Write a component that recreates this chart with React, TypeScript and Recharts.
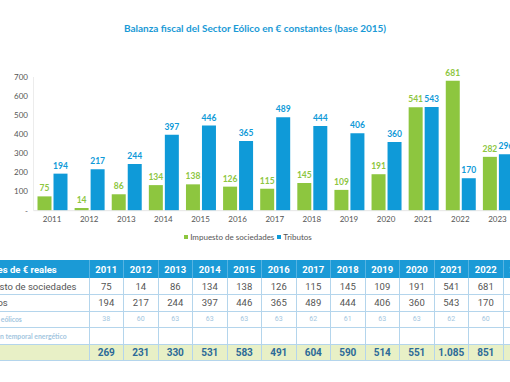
import React from "react";
import { BarChart, Bar, XAxis, YAxis, Legend, LabelList } from "recharts";

const years = ["2011", "2012", "2013", "2014", "2015", "2016", "2017", "2018", "2019", "2020", "2021", "2022", "2023"];
const impuesto = [75, 14, 86, 134, 138, 126, 115, 145, 109, 191, 541, 681, 282];
const tributos = [194, 217, 244, 397, 446, 365, 489, 444, 406, 360, 543, 170, 296];
const canones = ["38", "60", "63", "63", "63", "63", "62", "61", "63", "63", "62", "60", "60"];
const totales = ["269", "231", "330", "531", "583", "491", "604", "590", "514", "551", "1.085", "851", "578"];
const yTicks = [0, 100, 200, 300, 400, 500, 600, 700];

const GREEN = "#8dc63f";
const BLUE = "#0f9ad8";
const LINE = "#b4d5ec";

const data = years.map((y, i) => ({ year: y, Impuesto: impuesto[i], Tributos: tributos[i] }));

const LegendContent = (props: any) => (
  <div style={{ display: "flex", justifyContent: "center", fontFamily: "Lato", fontSize: 8, color: "#555" }}>
    {(props.payload || []).map((p: any) => (
      <span key={p.value} style={{ display: "flex", alignItems: "center", marginRight: 3 }}>
        <span style={{ width: 4, height: 4, background: p.color, display: "inline-block", marginRight: 2 }} />
        {p.value === "Impuesto" ? "Impuesto de sociedades" : "Tributos"}
      </span>
    ))}
  </div>
);

const cell = (extra: React.CSSProperties = {}): React.CSSProperties => ({
  borderLeft: `1px solid ${LINE}`,
  borderBottom: `1px solid ${LINE}`,
  textAlign: "center",
  padding: 0,
  ...extra,
});

const App = () => {
  const rowH = 16.6;
  return (
    <div style={{ position: "absolute", left: 0, top: 0, width: 510, height: 382, overflow: "hidden", background: "#fff" }}>
      <div
        style={{
          position: "absolute",
          top: 22,
          left: 0,
          width: 510,
          textAlign: "center",
          fontFamily: "Lato",
          fontWeight: 700,
          fontSize: 10,
          color: "#1a9ad6",
        }}
      >
        Balanza fiscal del Sector Eólico en € constantes (base 2015)
      </div>
      <div style={{ position: "absolute", left: 0, top: 0 }}>
        <BarChart
          width={520}
          height={250}
          data={data}
          margin={{ top: 77, right: 4, bottom: 19.3, left: 0 }}
          barSize={14}
          barGap={2}
        >
          <XAxis
            dataKey="year"
            height={20}
            tickLine={false}
            tickSize={0}
            tickMargin={6}
            axisLine={{ stroke: "#e6e6e6" }}
            tick={{ fontFamily: "Lato", fontSize: 8, fill: "#555" }}
          />
          <YAxis
            width={33.5}
            domain={[0, 700]}
            ticks={yTicks}
            tickLine={false}
            tickSize={0}
            tickMargin={5.5}
            axisLine={{ stroke: "#ececec" }}
            tickFormatter={(v: number) => (v === 0 ? "-" : String(v))}
            tick={{ fontFamily: "Lato", fontSize: 8, fill: "#555" }}
          />
          <Legend
            layout="horizontal"
            verticalAlign="middle"
            align="center"
            wrapperStyle={{ position: "absolute", top: 232, left: 0, width: 499 }}
            content={<LegendContent />}
          />
          <Bar dataKey="Impuesto" fill={GREEN} isAnimationActive={false}>
            <LabelList dataKey="Impuesto" position="top" offset={5} style={{ fontFamily: "Lato", fontWeight: 700, fontSize: 8.5, fill: GREEN }} />
          </Bar>
          <Bar dataKey="Tributos" fill={BLUE} isAnimationActive={false}>
            <LabelList dataKey="Tributos" position="top" offset={5} style={{ fontFamily: "Lato", fontWeight: 700, fontSize: 8.5, fill: BLUE }} />
          </Bar>
        </BarChart>
      </div>
      <table
        style={{
          position: "absolute",
          top: 260,
          left: -33,
          borderCollapse: "collapse",
          tableLayout: "fixed",
          width: 122 + 34.5 * years.length,
          fontFamily: "Roboto",
        }}
      >
        <colgroup>
          <col style={{ width: 122 }} />
          {years.map((y) => (
            <col key={y} style={{ width: 34.5 }} />
          ))}
        </colgroup>
        <tbody>
          <tr style={{ height: 18, background: "#1b9ad6", color: "#fff", fontWeight: 700, fontSize: 9.5 }}>
            <td style={{ padding: "0 0 0 4px", textAlign: "left" }}>Millones de € reales</td>
            {years.map((y) => (
              <td key={y} style={{ textAlign: "center", padding: 0, borderLeft: "1px solid #56b3e2" }}>
                {y}
              </td>
            ))}
          </tr>
          <tr style={{ height: rowH, color: "#555", fontSize: 9.5 }}>
            <td style={{ padding: "0 0 0 6px", borderBottom: `1px solid ${LINE}` }}>Impuesto de sociedades</td>
            {impuesto.map((v, i) => (
              <td key={i} style={cell()}>{v}</td>
            ))}
          </tr>
          <tr style={{ height: rowH, color: "#555", fontSize: 9.5 }}>
            <td style={{ padding: "0 0 0 6px", borderBottom: `1px solid ${LINE}` }}>Tributos</td>
            {tributos.map((v, i) => (
              <td key={i} style={cell()}>{v}</td>
            ))}
          </tr>
          <tr style={{ height: rowH, color: "#a3c6e0", fontSize: 6.8 }}>
            <td style={{ padding: "0 0 0 6px", borderBottom: `1px solid ${LINE}`, fontFamily: "Lato", fontWeight: 700 }}>Cánones eólicos</td>
            {canones.map((v, i) => (
              <td key={i} style={cell({ fontSize: 7 })}>{v}</td>
            ))}
          </tr>
          <tr style={{ height: rowH, color: "#a3c6e0", fontSize: 6.8 }}>
            <td style={{ padding: "0 0 0 6px", borderBottom: `1px solid ${LINE}`, fontFamily: "Lato", fontWeight: 700 }}>
              Gravamen temporal energético
            </td>
            {years.map((y) => (
              <td key={y} style={cell()} />
            ))}
          </tr>
          <tr style={{ height: rowH, background: "#e8f0c6", color: "#2c6a98", fontWeight: 700, fontSize: 10 }}>
            <td style={{ padding: "0 0 0 6px", borderBottom: `1px solid ${LINE}` }}>Total</td>
            {totales.map((v, i) => (
              <td key={i} style={cell()}>{v}</td>
            ))}
          </tr>
        </tbody>
      </table>
    </div>
  );
};

export default App;
